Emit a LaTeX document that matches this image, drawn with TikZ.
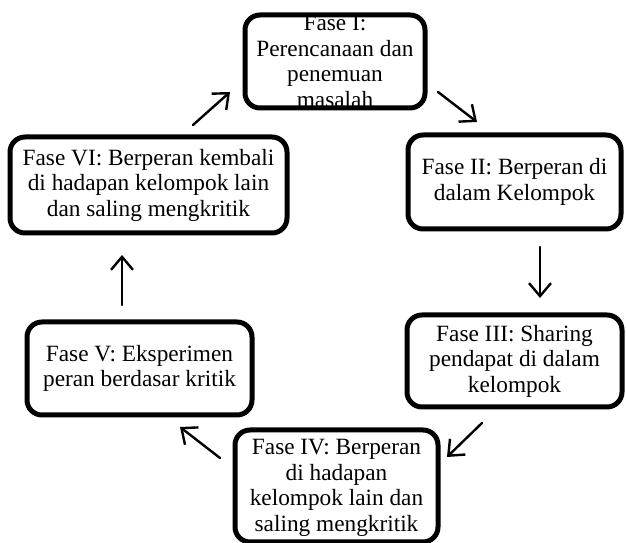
\documentclass[tikz,border=0pt]{standalone}
\usepackage{fontspec}
\setmainfont{Liberation Serif}
\usetikzlibrary{arrows.meta}
\tikzset{
  phasebox/.style={draw=black, line width=5pt, rounded corners=15pt, inner sep=0pt},
  phasetext/.style={align=center, font=\fontsize{23.3}{25.5}\selectfont, inner sep=0pt},
  cyclearrow/.style={line width=2.4pt, line cap=round, line join=round,
    -{Straight Barb[length=13pt,width=22pt,line width=2.4pt]}}
}
\begin{document}
\begin{tikzpicture}[x=1pt,y=1pt]
\useasboundingbox (0,0) rectangle (626,543);
% boxes (y = 543 - pixel y)
\node[phasebox, minimum width=180pt, minimum height=93pt] (b1) at (335,481.5) {};
\node[phasebox, minimum width=213pt, minimum height=94pt] (b2) at (514.5,361) {};
\node[phasebox, minimum width=215pt, minimum height=92pt] (b3) at (514.5,182) {};
\node[phasebox, minimum width=203pt, minimum height=112pt] (b4) at (336.5,57) {};
\node[phasebox, minimum width=225pt, minimum height=93pt] (b5) at (139.5,174.5) {};
\node[phasebox, minimum width=277pt, minimum height=96pt] (b6) at (148.5,358) {};
% texts
\node[phasetext] (t1) at ([yshift=0pt]b1.center) {Fase I:\\Perencanaan dan\\penemuan\\masalah};
\node[phasetext] (t2) at (b2.center) {Fase II: Berperan di\\dalam Kelompok};
\node[phasetext] (t3) at (b3.center) {Fase III: Sharing\\pendapat di dalam\\kelompok};
\node[phasetext] (t4) at ([yshift=-2pt]b4.center) {Fase IV: Berperan\\di hadapan\\kelompok lain dan\\saling mengkritik};
\node[phasetext] (t5) at (b5.center) {Fase V: Eksperimen\\peran berdasar kritik};
\node[phasetext] (t6) at (b6.center) {Fase VI: Berperan kembali\\di hadapan kelompok lain\\dan saling mengkritik};
% arrow end points
\coordinate (a1s) at (438,451);
\coordinate (a1e) at (477,421);
\coordinate (a2s) at (540,296);
\coordinate (a2e) at (540,245);
\coordinate (a3s) at (482,120);
\coordinate (a3e) at (447,86);
\coordinate (a4s) at (220,85);
\coordinate (a4e) at (180,116);
\coordinate (a5s) at (122,238);
\coordinate (a5e) at (122,288);
\coordinate (a6s) at (193,418);
\coordinate (a6e) at (230,451);
\draw[cyclearrow] (a1s) -- (a1e);
\draw[cyclearrow] (a2s) -- (a2e);
\draw[cyclearrow] (a3s) -- (a3e);
\draw[cyclearrow] (a4s) -- (a4e);
\draw[cyclearrow] (a5s) -- (a5e);
\draw[cyclearrow] (a6s) -- (a6e);
\end{tikzpicture}
\end{document}
